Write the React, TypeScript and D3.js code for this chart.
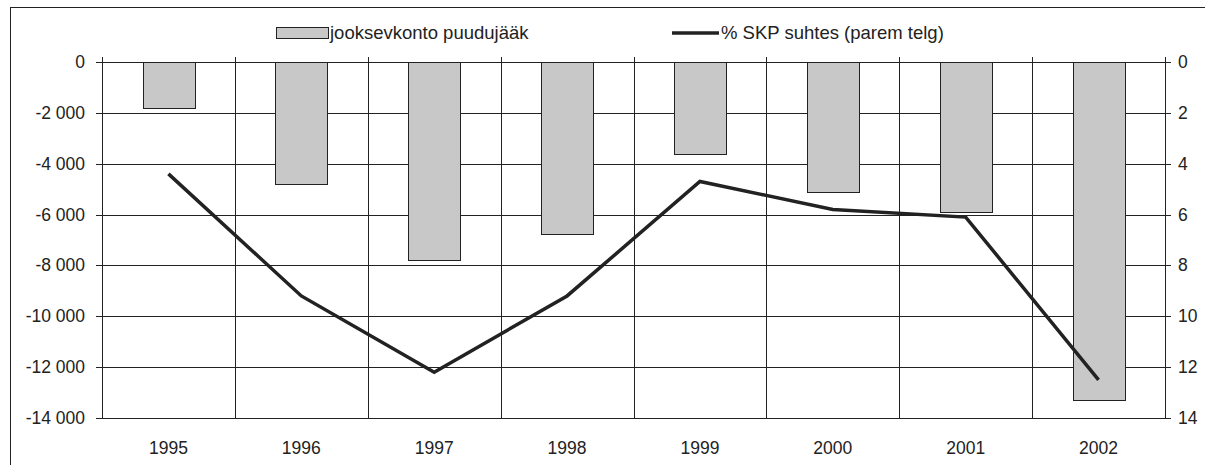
import React, { useEffect, useRef } from 'react'
import * as d3 from 'd3'

// andmed
const years = ['1995', '1996', '1997', '1998', '1999', '2000', '2001', '2002']
const deficit = [-1820, -4800, -7790, -6760, -3620, -5110, -5900, -13290]
const gdpShare = [4.4, 9.2, 12.2, 9.2, 4.7, 5.8, 6.1, 12.5]
const leftTicks = [0, -2000, -4000, -6000, -8000, -10000, -12000, -14000]
const rightTicks = [0, 2, 4, 6, 8, 10, 12, 14]

const W = 1205
const H = 465
const FONT = 'Liberation Sans, Arial, sans-serif'

const fmt = (v: number) => {
  const s = Math.abs(v).toString().replace(/\B(?=(\d{3})+(?!\d))/g, ' ')
  return (v < 0 ? '-' : '') + s
}

export default function App() {
  const ref = useRef<SVGSVGElement>(null)

  useEffect(() => {
    const svg = d3.select(ref.current)
    svg.selectAll('*').remove()

    const left = 102
    const right = 1165
    const top = 62
    const bottom = 418

    const x = d3.scaleBand().domain(years).range([left, right]).padding(0)
    const yL = d3.scaleLinear().domain([0, -14000]).range([top, bottom])
    const yR = d3.scaleLinear().domain([0, 14]).range([top, bottom])

    // raam
    svg.append('rect')
      .attr('x', 10.5).attr('y', 7.5)
      .attr('width', 1200).attr('height', 470)
      .attr('fill', 'none').attr('stroke', '#222').attr('stroke-width', 1)

    // horisontaalsed jooned
    svg.append('g').selectAll('line')
      .data(leftTicks)
      .enter().append('line')
      .attr('x1', left - 6).attr('x2', right + 6)
      .attr('y1', d => Math.round(yL(d)) + 0.5)
      .attr('y2', d => Math.round(yL(d)) + 0.5)
      .attr('stroke', '#222').attr('stroke-width', 1)

    // vertikaalsed jooned
    const bounds = years.map(d => x(d) as number).concat([right])
    svg.append('g').selectAll('line')
      .data(bounds)
      .enter().append('line')
      .attr('x1', d => Math.round(d) + 0.5).attr('x2', d => Math.round(d) + 0.5)
      .attr('y1', top - 5).attr('y2', bottom)
      .attr('stroke', '#222').attr('stroke-width', 1)

    // tulbad
    const bw = x.bandwidth() * 0.39
    svg.append('g').selectAll('rect')
      .data(deficit)
      .enter().append('rect')
      .attr('x', (d, i) => Math.round((x(years[i]) as number) + (x.bandwidth() - bw) / 2) + 0.5)
      .attr('y', Math.round(yL(0)) + 0.5)
      .attr('width', Math.round(bw))
      .attr('height', d => Math.round(yL(d) - yL(0)))
      .attr('fill', '#c8c8c8')
      .attr('stroke', '#222').attr('stroke-width', 1)

    // joon
    const line = d3.line<number>()
      .x((d, i) => (x(years[i]) as number) + x.bandwidth() / 2)
      .y(d => yR(d))
    svg.append('path')
      .datum(gdpShare)
      .attr('d', line)
      .attr('fill', 'none')
      .attr('stroke', '#222')
      .attr('stroke-width', 3.5)
      .attr('stroke-linejoin', 'miter')

    // vasak telg
    svg.append('g').selectAll('text')
      .data(leftTicks)
      .enter().append('text')
      .attr('x', 85).attr('y', d => yL(d) + 6)
      .attr('text-anchor', 'end')
      .attr('font-family', FONT).attr('font-size', 17.5).attr('fill', '#222')
      .text(d => fmt(d))

    // parem telg
    svg.append('g').selectAll('text')
      .data(rightTicks)
      .enter().append('text')
      .attr('x', 1178).attr('y', d => yR(d) + 6)
      .attr('font-family', FONT).attr('font-size', 17.5).attr('fill', '#222')
      .text(d => d)

    // aastad
    svg.append('g').selectAll('text')
      .data(years)
      .enter().append('text')
      .attr('x', d => (x(d) as number) + x.bandwidth() / 2)
      .attr('y', 454)
      .attr('text-anchor', 'middle')
      .attr('font-family', FONT).attr('font-size', 17.5).attr('fill', '#222')
      .text(d => d)

    // legend
    const lg = svg.append('g')
    lg.append('rect')
      .attr('x', 276.5).attr('y', 27.5).attr('width', 52).attr('height', 11)
      .attr('fill', '#c8c8c8').attr('stroke', '#222').attr('stroke-width', 1)
    lg.append('text')
      .attr('x', 330).attr('y', 39)
      .attr('font-family', FONT).attr('font-size', 18.5).attr('fill', '#222')
      .text('jooksevkonto puudujääk')
    lg.append('line')
      .attr('x1', 672).attr('x2', 719).attr('y1', 33).attr('y2', 33)
      .attr('stroke', '#222').attr('stroke-width', 3.5)
    lg.append('text')
      .attr('x', 721).attr('y', 39)
      .attr('font-family', FONT).attr('font-size', 18.5).attr('fill', '#222')
      .text('% SKP suhtes (parem telg)')
  }, [])

  return (
    <svg ref={ref} width={W} height={H}
      style={{ position: 'absolute', left: 0, top: 0, background: '#fff' }} />
  )
}
